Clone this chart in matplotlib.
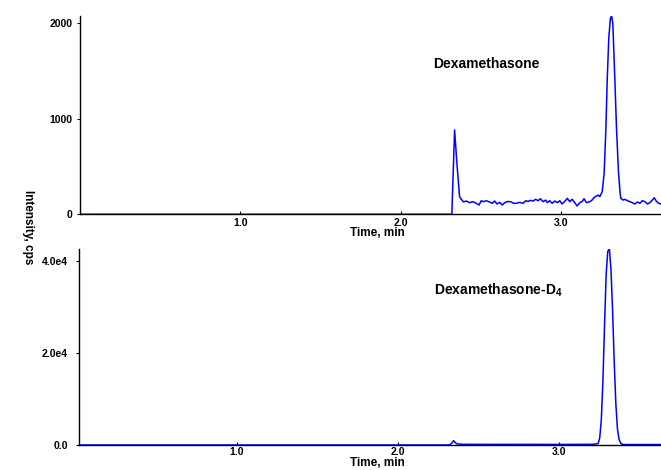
import matplotlib
matplotlib.use("Agg")
import matplotlib.pyplot as plt

plt.rcParams['font.family'] = ['Liberation Sans', 'DejaVu Sans']
plt.rcParams['font.weight'] = 'bold'
plt.rcParams['mathtext.fontset'] = 'custom'
plt.rcParams['mathtext.rm'] = 'Liberation Sans:bold'
plt.rcParams['mathtext.bf'] = 'Liberation Sans:bold'

# ------------------------------------------------------------
# Dexamethasone trace (time in min, intensity in cps)
# ------------------------------------------------------------
dex_time = [0.0, 2.318, 2.335, 2.350, 2.366, 2.377, 2.391, 2.408, 2.428, 2.449,
            2.470, 2.487, 2.501, 2.516, 2.532, 2.553, 2.570, 2.584, 2.599, 2.616,
            2.632, 2.647, 2.667, 2.688, 2.703, 2.719, 2.740, 2.761, 2.778, 2.792,
            2.807, 2.823, 2.840, 2.855, 2.869, 2.886, 2.902, 2.913, 2.927, 2.942,
            2.959, 2.975, 2.990, 3.004, 3.021, 3.037, 3.052, 3.067, 3.083, 3.098,
            3.114, 3.129, 3.141, 3.156, 3.171, 3.187, 3.204, 3.218, 3.229, 3.239,
            3.254, 3.266, 3.277, 3.285, 3.295, 3.305, 3.312, 3.320, 3.333, 3.343,
            3.355, 3.365, 3.370, 3.385, 3.395, 3.412, 3.426, 3.441, 3.457, 3.474,
            3.489, 3.503, 3.520, 3.536, 3.551, 3.566, 3.578, 3.593, 3.607, 3.620]
dex_int = [0, 0, 883, 520, 185, 157, 129, 139, 122, 132,
           115, 97, 142, 132, 142, 129, 115, 139, 108, 125,
           97, 122, 135, 129, 115, 115, 125, 115, 142, 135,
           146, 139, 157, 142, 163, 132, 149, 122, 142, 115,
           139, 122, 142, 108, 135, 167, 132, 157, 122, 87,
           122, 132, 163, 122, 129, 142, 177, 191, 201, 185,
           237, 430, 900, 1400, 1850, 2050, 2080, 2000, 1400, 900,
           450, 230, 167, 149, 157, 142, 132, 122, 108, 129,
           115, 142, 132, 108, 122, 149, 173, 132, 115, 108]

# ------------------------------------------------------------
# Dexamethasone-D4 trace
# ------------------------------------------------------------
d4_time = [0.0, 2.318, 2.330, 2.345, 2.355, 2.365, 2.400, 2.600, 2.800, 3.000,
           3.200, 3.220, 3.240, 3.250, 3.260, 3.270, 3.280, 3.290, 3.300, 3.310,
           3.320, 3.330, 3.340, 3.350, 3.360, 3.370, 3.380, 3.390, 3.400, 3.500,
           3.650]
d4_int = [0, 0, 300, 930, 500, 250, 150, 130, 140, 120,
          150, 200, 300, 1500, 5500, 14000, 26000, 37000, 42000, 42500,
          38000, 29000, 18000, 9000, 3500, 1200, 400, 150, 100, 100,
          100]

top_yticks = [0, 1000, 2000]
top_ylabels = ['0', '1000', '2000']
bot_yticks = [0, 20000, 40000]
bot_ylabels = ['0.0', '2.0e4', '4.0e4']
xticks = [1.0, 2.0, 3.0]
xlabels = ['1.0', '2.0', '3.0']

fig = plt.figure(figsize=(6.61, 4.70), dpi=100)
W, H = 661, 470

ax1 = fig.add_axes([80 / W, 1 - 214.3 / H, 1 - 80 / W, (214.3 - 15.7) / H])
ax2 = fig.add_axes([79 / W, 1 - 445 / H, 1 - 79 / W, (445 - 249) / H])

ax1.plot(dex_time, dex_int, color='#0000ff', lw=1.1)
ax2.plot(d4_time, d4_int, color='#0000ff', lw=1.1)

ax1.set_xlim(0.003, 3.62)
ax1.set_ylim(0, 2080)
ax2.set_xlim(0.022, 3.63)
ax2.set_ylim(0, 42500)

ax1.set_yticks(top_yticks, top_ylabels)
ax2.set_yticks(bot_yticks, bot_ylabels)

for ax, xpad, ypad in ((ax1, 3.0, 3.0), (ax2, 1.5, 5.5)):
    ax.set_xticks(xticks, xlabels)
    ax.spines['top'].set_visible(False)
    ax.spines['right'].set_visible(False)
    ax.spines['left'].set_linewidth(1.0)
    ax.spines['bottom'].set_linewidth(1.0)
    ax.tick_params(axis='x', direction='in', length=2, width=0.8, pad=xpad, labelsize=7.5)
    ax.tick_params(axis='y', direction='out', length=2.5, width=0.8, pad=ypad, labelsize=7.5)
    for lab in ax.get_xticklabels() + ax.get_yticklabels():
        lab.set_fontweight('bold')

ax1.text(2.20, 1572, 'Dexamethasone', fontsize=10, fontweight='bold',
         ha='left', va='center')
ax2.text(2.22, 33500, r'Dexamethasone-D$_{4}$', fontsize=10, fontweight='bold',
         ha='left', va='center')

fig.text(377 / W, 1 - 233 / H, 'Time, min', fontsize=8.5, fontweight='bold',
         ha='center', va='center')
fig.text(377 / W, 1 - 463 / H, 'Time, min', fontsize=8.5, fontweight='bold',
         ha='center', va='center')
fig.text(28 / W, 1 - 227 / H, 'Intensity, cps', fontsize=8.5, fontweight='bold',
         rotation=-90, ha='center', va='center')

fig.savefig('out.png', dpi=100)
